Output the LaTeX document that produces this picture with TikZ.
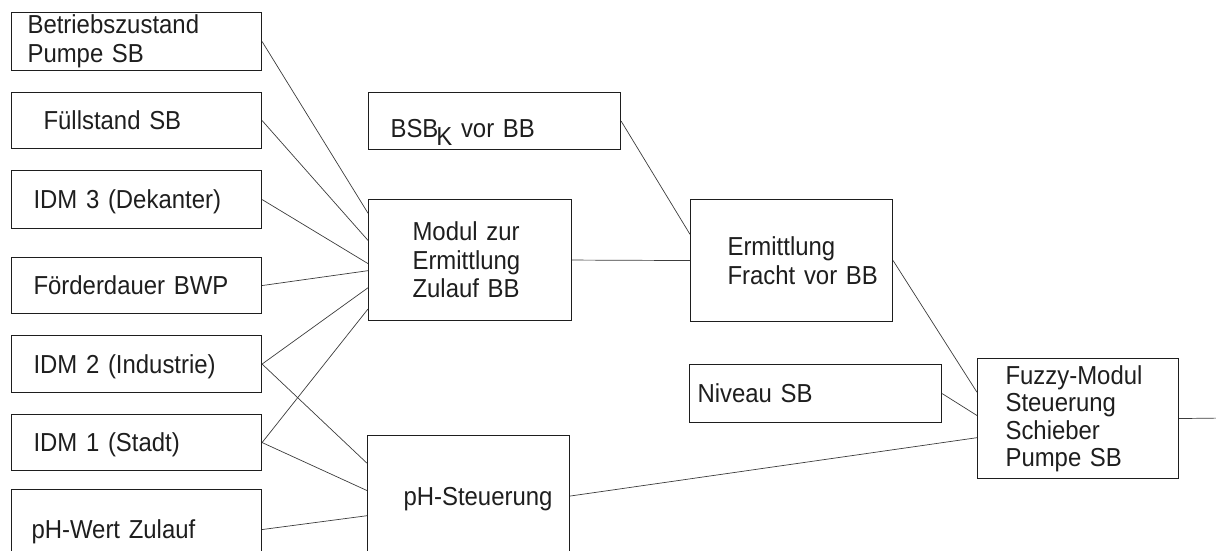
\documentclass[tikz,border=0pt]{standalone}
\usepackage{fontspec}
\setmainfont[FakeStretch=0.92]{Liberation Sans}
\usetikzlibrary{calc}
\definecolor{ink}{RGB}{30,30,30}
\definecolor{wire}{RGB}{60,60,60}
\tikzset{
  box/.style={draw=ink, line width=1.1pt, anchor=north west, align=left,
              inner xsep=4pt, inner ysep=0pt, text=ink,
              font=\fontsize{26}{28.5}\selectfont},
  indent/.style={execute at begin node={\leftskip=#1pt}},
  wire/.style={draw=wire, line width=0.7pt},
}

\begin{document}
\begin{tikzpicture}[x=1pt, y=-1pt]
  \clip (0,0) rectangle (1216,551);

  % Eingangsgroessen links
  \node[box, text width=242pt, minimum height=58pt, indent=12,
        font=\fontsize{26}{29}\selectfont] (betrieb) at (11,12) {Betriebszustand\\Pumpe SB};
  \node[box, text width=242pt, minimum height=56pt, indent=28, text depth=0pt] (fuellstand) at (11,92) {Füllstand SB};
  \node[box, text width=242pt, minimum height=58pt, indent=18, text depth=0pt] (idmdrei) at (11,170) {IDM 3 (Dekanter)};
  \node[box, text width=242pt, minimum height=56pt, indent=18, text depth=0pt] (foerder) at (11,257) {Förderdauer BWP};
  \node[box, text width=242pt, minimum height=57pt, indent=18, text depth=0pt] (idmzwei) at (11,335) {IDM 2 (Industrie)};
  \node[box, text width=242pt, minimum height=56pt, indent=18, text depth=0pt] (idmeins) at (11,414) {IDM 1 (Stadt)};
  \node[box, text width=242pt, minimum height=80pt, indent=16, text depth=0pt] (phwert) at (11,489) {pH-Wert Zulauf};

  % Module
  \node[box, text width=244pt, minimum height=57pt, indent=18,
        text height=45pt, text depth=12pt] (bsb) at (368,92)
    {BSB\kern-2pt\raisebox{-8pt}{K} vor BB};
  \node[box, text width=195pt, minimum height=121pt, indent=40] (modul) at (368,199)
    {Modul zur\\Ermittlung\\Zulauf BB};
  \node[box, text width=194pt, minimum height=121pt, indent=32, text depth=0pt] (phsteuer) at (367,435)
    {pH-Steuerung};
  \node[box, text width=194pt, minimum height=122pt, indent=33] (fracht) at (690,199)
    {Ermittlung\\Fracht vor BB};
  \node[box, text width=244pt, minimum height=58pt, indent=4, text depth=0pt] (niveau) at (689,364)
    {Niveau SB};
  \node[box, text width=193pt, minimum height=120pt, indent=24,
        font=\fontsize{26}{27.5}\selectfont] (fuzzy) at (977,358)
    {Fuzzy-Modul\\Steuerung\\Schieber\\Pumpe SB};
  \coordinate (ausgang) at (1226,418);

  % Verbindungen
  \draw[wire] (betrieb.east)    -- ($(modul.north west)!.116!(modul.south west)$);
  \draw[wire] (fuellstand.east) -- ($(modul.north west)!.339!(modul.south west)$);
  \draw[wire] (idmdrei.east)    -- ($(modul.north west)!.529!(modul.south west)$);
  \draw[wire] (foerder.east)    -- ($(modul.north west)!.587!(modul.south west)$);
  \draw[wire] (idmzwei.east)    -- ($(modul.north west)!.727!(modul.south west)$);
  \draw[wire] (idmeins.east)    -- ($(modul.north west)!.901!(modul.south west)$);
  \draw[wire] (idmzwei.east)    -- ($(phsteuer.north west)!.231!(phsteuer.south west)$);
  \draw[wire] (idmeins.east)    -- ($(phsteuer.north west)!.455!(phsteuer.south west)$);
  \draw[wire] (phwert.east)     -- ($(phsteuer.north west)!.661!(phsteuer.south west)$);

  \draw[wire] (bsb.east)   -- ($(fracht.north west)!.287!(fracht.south west)$);
  \draw[wire] (modul.east) -- (fracht.west);

  \draw[wire] (fracht.east)   -- ($(fuzzy.north west)!.283!(fuzzy.south west)$);
  \draw[wire] (niveau.east)   -- ($(fuzzy.north west)!.475!(fuzzy.south west)$);
  \draw[wire] (phsteuer.east) -- ($(fuzzy.north west)!.658!(fuzzy.south west)$);
  \draw[wire] (fuzzy.east) -- (ausgang);
\end{tikzpicture}
\end{document}
